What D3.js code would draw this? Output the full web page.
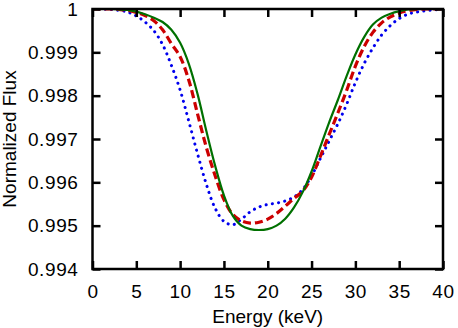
<!DOCTYPE html>
<html>
<head>
<meta charset="utf-8">
<script src="https://cdn.jsdelivr.net/npm/d3@7"></script>
<style>
  html, body { margin: 0; padding: 0; background: #fff; }
  svg text { font-family: "Liberation Sans", Arial, Helvetica, sans-serif; fill: #000; }
</style>
</head>
<body>
<div id="chart"></div>
<script>
// energy grid (keV) and the three normalized flux curves
const energy = d3.range(0, 41);

const fluxSolid = [
  1, 1, 1, 0.99999, 0.99998, 0.99994, 0.99988, 0.99980, 0.99970, 0.99952,
  0.99922, 0.99873, 0.99803, 0.99718, 0.99638, 0.99570, 0.99523, 0.99500, 0.99492, 0.99490,
  0.99492, 0.99500, 0.99516, 0.99542, 0.99578, 0.99625, 0.99682, 0.99738, 0.99790, 0.99845,
  0.99895, 0.99935, 0.99964, 0.99980, 0.99989, 0.99995, 0.99999, 1, 1, 1, 1
];

const fluxDashed = [
  1, 1, 1, 0.99999, 0.99997, 0.99992, 0.99985, 0.99973, 0.99952, 0.99920,
  0.99890, 0.99835, 0.99757, 0.99680, 0.99615, 0.99560, 0.99526, 0.99511, 0.99506, 0.99508,
  0.99515, 0.99528, 0.99545, 0.99563, 0.99580, 0.99612, 0.99660, 0.99710, 0.99760, 0.99812,
  0.99868, 0.99913, 0.99946, 0.99968, 0.99982, 0.99991, 0.99996, 0.99999, 1, 1, 1
];

const fluxDotted = [
  1, 1, 0.99999, 0.99997, 0.99993, 0.99984, 0.99970, 0.99950, 0.99918, 0.99870,
  0.99813, 0.99740, 0.99665, 0.99595, 0.99540, 0.99510, 0.99502, 0.99515, 0.99532, 0.99543,
  0.99549, 0.99552, 0.99557, 0.99566, 0.99584, 0.99615, 0.99655, 0.99695, 0.99735, 0.99780,
  0.99830, 0.99874, 0.99910, 0.99940, 0.99962, 0.99978, 0.99988, 0.99993, 0.99996, 0.99998, 1
];

const xTicks = [0, 5, 10, 15, 20, 25, 30, 35, 40];
const yTicks = [0.994, 0.995, 0.996, 0.997, 0.998, 0.999, 1];
const yTickLabels = ["0.994", "0.995", "0.996", "0.997", "0.998", "0.999", "1"];

const W = 458, H = 328;
const margin = { left: 92.5, right: 15, top: 9, bottom: 59 };

const svg = d3.select("#chart").append("svg")
  .attr("width", W).attr("height", H);

const x = d3.scaleLinear().domain([0, 40]).range([margin.left, W - margin.right]);
const y = d3.scaleLinear().domain([0.994, 1]).range([H - margin.bottom, margin.top]);

// clip curves to the frame
svg.append("clipPath").attr("id", "clip")
  .append("rect")
  .attr("x", margin.left).attr("y", margin.top)
  .attr("width", x(40) - x(0)).attr("height", y(0.994) - y(1));

const line = d3.line()
  .x((d, i) => x(energy[i]))
  .y(d => y(d))
  .curve(d3.curveCatmullRom.alpha(0.5));

const series = [
  { values: fluxDotted, color: "#0000ee", width: 3, dash: "0.1,6.2", cap: "round" },
  { values: fluxDashed, color: "#cc0000", width: 3.2, dash: "8,4", cap: "butt" },
  { values: fluxSolid, color: "#007000", width: 2.2, dash: null, cap: "butt" }
];

const plot = svg.append("g").attr("clip-path", "url(#clip)");
series.forEach(s => {
  plot.append("path")
    .attr("d", line(s.values))
    .attr("fill", "none")
    .attr("stroke", s.color)
    .attr("stroke-width", s.width)
    .attr("stroke-linecap", s.cap)
    .attr("stroke-dasharray", s.dash);
});

// axes with inward ticks on all four sides
const tickLen = 8;
const fmtY = d => yTickLabels[yTicks.indexOf(d)];

svg.append("g")
  .attr("transform", `translate(0,${y(0.994)})`)
  .call(d3.axisBottom(x).tickValues(xTicks).tickSize(-tickLen).tickPadding(16))
  .call(g => g.select(".domain").remove());

svg.append("g")
  .attr("transform", `translate(0,${y(1)})`)
  .call(d3.axisTop(x).tickValues(xTicks).tickSize(-tickLen).tickFormat(""))
  .call(g => g.select(".domain").remove());

svg.append("g")
  .attr("transform", `translate(${x(0)},0)`)
  .call(d3.axisLeft(y).tickValues(yTicks).tickSize(-tickLen).tickPadding(14).tickFormat(fmtY))
  .call(g => g.select(".domain").remove());

svg.append("g")
  .attr("transform", `translate(${x(40)},0)`)
  .call(d3.axisRight(y).tickValues(yTicks).tickSize(-tickLen).tickFormat(""))
  .call(g => g.select(".domain").remove());

svg.selectAll(".tick line").attr("stroke", "#000").attr("stroke-width", 2.5);
svg.selectAll(".tick text").attr("font-size", 19).attr("fill", "#000")
  .attr("letter-spacing", "0.6px");

// frame
svg.append("rect")
  .attr("x", x(0)).attr("y", y(1))
  .attr("width", x(40) - x(0)).attr("height", y(0.994) - y(1))
  .attr("fill", "none").attr("stroke", "#000").attr("stroke-width", 2.5);

// axis titles
svg.append("text")
  .attr("x", (x(0) + x(40)) / 2).attr("y", 323)
  .attr("text-anchor", "middle").attr("font-size", 19)
  .text("Energy (keV)");

svg.append("text")
  .attr("transform", `translate(16,${(y(1) + y(0.994)) / 2}) rotate(-90)`)
  .attr("text-anchor", "middle").attr("font-size", 19)
  .text("Normalized Flux");
</script>
</body>
</html>
